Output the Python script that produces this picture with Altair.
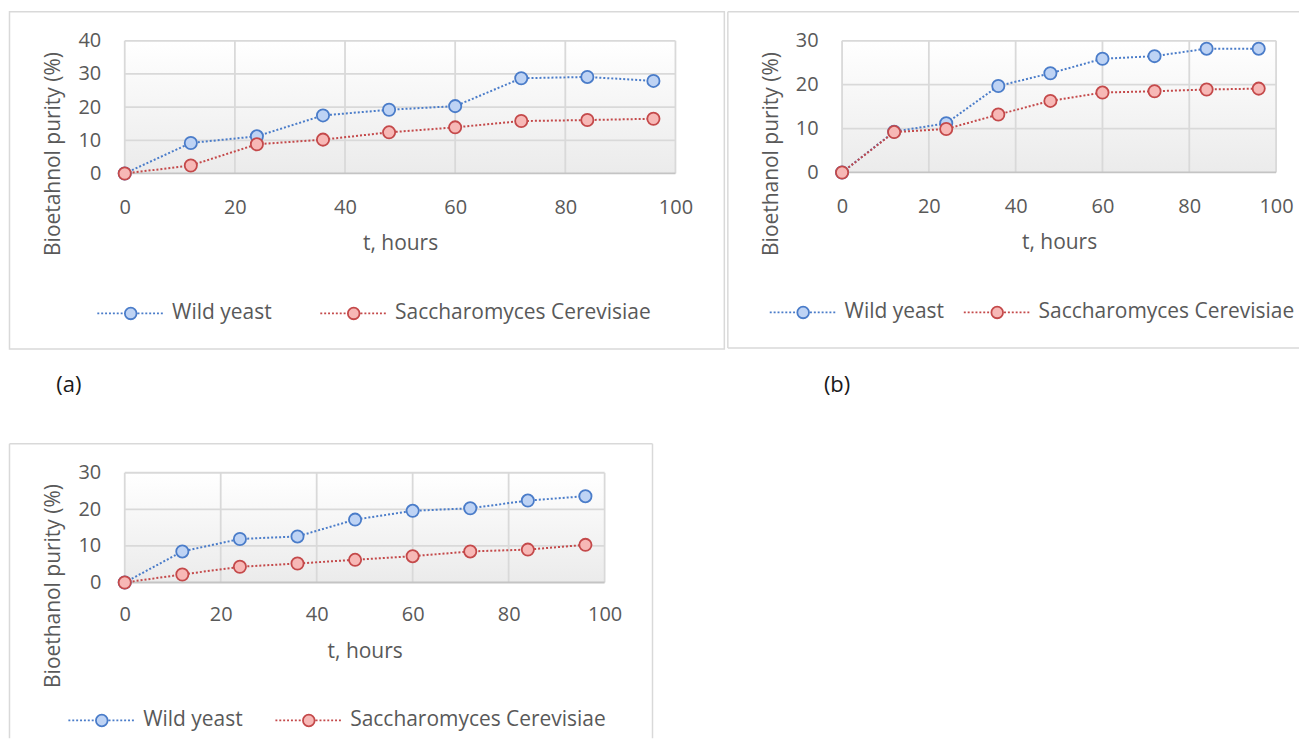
import altair as alt
import pandas as pd

# ---------------- data ----------------
hours = [0, 12, 24, 36, 48, 60, 72, 84, 96]
series_names = ["Wild yeast", "Saccharomyces Cerevisiae"]

a_wild = [0, 9.2, 11.2, 17.5, 19.2, 20.3, 28.7, 29.1, 27.9]
a_sacch = [0, 2.4, 8.8, 10.2, 12.4, 13.9, 15.8, 16.1, 16.5]
b_wild = [0, 9.3, 11.2, 19.7, 22.6, 25.9, 26.5, 28.2, 28.2]
b_sacch = [0, 9.2, 9.9, 13.2, 16.3, 18.2, 18.5, 18.9, 19.1]
c_wild = [0, 8.5, 11.9, 12.6, 17.2, 19.6, 20.3, 22.4, 23.6]
c_sacch = [0, 2.2, 4.3, 5.2, 6.2, 7.2, 8.5, 9.0, 10.3]

x_ticks = [0, 20, 40, 60, 80, 100]
a_y_ticks = [0, 10, 20, 30, 40]
bc_y_ticks = [0, 10, 20, 30]

y_titles = ["Bioetahnol purity (%)", "Bioethanol purity (%)", "Bioethanol purity (%)"]
x_title = "t, hours"
panel_labels = ["(a)", "(b)"]

# ---------------- style ----------------
FONT = "Open Sans"
TXT = "#595959"
GRID = "#d9d9d9"
FRAME = "#d9d9d9"
line_colors = ["#4a7cc9", "#c4494a"]
fill_colors = ["#bed3f4", "#f7b8b6"]

stroke_scale = alt.Scale(domain=series_names, range=line_colors)
fill_scale = alt.Scale(domain=series_names, range=fill_colors)

bg_gradient = alt.LinearGradient(
    gradient="linear",
    stops=[alt.GradientStop(color="#ffffff", offset=0),
           alt.GradientStop(color="#ebebeb", offset=1)],
    x1=0, x2=0, y1=0, y2=1)


def dotted(x0, x1, on=0.3, period=0.6):
    segs = []
    x = x0
    while x + on <= x1 + 1e-9:
        segs.append(f"M{x:.2f},0L{x + on:.2f},0")
        x += period
    return "".join(segs)


R = 0.9
SYMBOL = (dotted(-5.15, -R - 0.1) + dotted(R + 0.15, 5.15)
          + f"M{R},0A{R},{R} 0 1,1 {-R},0A{R},{R} 0 1,1 {R},0Z")


def make_panel(wild, sacch, y_ticks, y_title, w, h, legend_x, legend_y,
               col_pad, xlab_pad, xtitle_y, ytitle_y, deco):
    n = len(hours)
    df = pd.DataFrame({
        "t": hours + hours,
        "v": wild + sacch,
        "s": [series_names[0]] * n + [series_names[1]] * n,
    })
    ymax = y_ticks[-1]
    xs = alt.Scale(domain=[0, 100], nice=False, zero=False)
    ys = alt.Scale(domain=[0, ymax], nice=False, zero=False)
    xa = alt.Axis(values=x_ticks, labelPadding=xlab_pad, title=x_title,
                  titleY=xtitle_y, titleBaseline="middle", labelFlush=False)
    ya = alt.Axis(values=y_ticks, labelPadding=24, title=y_title,
                  titleX=-71, titleY=ytitle_y, titleAngle=270,
                  titleAlign="center", titleBaseline="middle")
    leg = alt.Legend(orient="none", legendX=legend_x, legendY=legend_y,
                     direction="horizontal", columns=2, title=None,
                     symbolType=SYMBOL, symbolSize=169, symbolStrokeWidth=1.8,
                     labelFont=FONT, labelFontSize=21, labelColor=TXT,
                     labelOffset=31, columnPadding=col_pad, padding=0,
                     labelLimit=500)

    bg_df = pd.DataFrame({"x0": [0], "x1": [100], "y0": [0], "y1": [ymax]})
    bg = alt.Chart(bg_df).mark_rect(fill=bg_gradient).encode(
        x=alt.X("x0:Q", scale=xs, axis=xa), x2="x1:Q",
        y=alt.Y("y0:Q", scale=ys, axis=ya), y2="y1:Q")
    vgrid = alt.Chart(pd.DataFrame({"g": x_ticks})).mark_rule(
        color=GRID, strokeWidth=1.8).encode(
        x=alt.X("g:Q", scale=xs, axis=xa))
    hgrid = alt.Chart(pd.DataFrame({"g": y_ticks})).mark_rule(
        strokeWidth=1.8).encode(
        y=alt.Y("g:Q", scale=ys, axis=ya),
        color=alt.condition(alt.datum.g == 0, alt.value("#c4c4c4"), alt.value(GRID)))
    lines = [
        alt.Chart(df).transform_filter(alt.datum.s == name).mark_line(
            strokeDash=[2, 2], strokeWidth=2, color=col).encode(
            x=alt.X("t:Q", scale=xs, axis=xa),
            y=alt.Y("v:Q", scale=ys, axis=ya))
        for name, col in zip(series_names, line_colors)
    ]
    pts = alt.Chart(df).mark_circle(size=150, strokeWidth=1.8, opacity=1).encode(
        x=alt.X("t:Q", scale=xs, axis=xa),
        y=alt.Y("v:Q", scale=ys, axis=ya),
        stroke=alt.Stroke("s:N", scale=stroke_scale, legend=leg),
        fill=alt.Fill("s:N", scale=fill_scale, legend=leg))
    return alt.layer(bg, vgrid, hgrid, *lines, pts, *deco).properties(width=w, height=h)


def hline(x1, x2, y):
    return alt.Chart().mark_rule(color=FRAME, strokeWidth=1.5).encode(
        x=alt.value(x1), x2=alt.value(x2), y=alt.value(y))


def vline(x, y1, y2):
    return alt.Chart().mark_rule(color=FRAME, strokeWidth=1.5).encode(
        x=alt.value(x), y=alt.value(y1), y2=alt.value(y2))


def caption(txt, x, y):
    return alt.Chart().mark_text(font=FONT, fontSize=22, color="#1a1a1a",
                                 align="center", baseline="middle").encode(
        x=alt.value(x), y=alt.value(y), text=alt.value(txt))


# panel (a)
deco_a = [
    alt.Chart().mark_rect(fill="transparent", stroke=FRAME, strokeWidth=1.5).encode(
        x=alt.value(-115.5), x2=alt.value(601), y=alt.value(-29), y2=alt.value(309)),
    alt.Chart().mark_rect(fill="transparent").encode(
        x=alt.value(0), x2=alt.value(1), y=alt.value(-29), y2=alt.value(401)),
    caption(panel_labels[0], -56, 345),
]
pa = make_panel(a_wild, a_sacch, a_y_ticks, y_titles[0], 552, 133,
                -4.5, 262.5, 44.5, 24, 70, 113, deco_a)

# panel (b)
deco_b = [
    hline(-114.5, 458, -29), hline(-114.5, 458, 308), vline(-114.5, -29, 308),
    caption(panel_labels[1], -5, 345),
]
pb = make_panel(b_wild, b_sacch, bc_y_ticks, y_titles[1], 435, 132,
                -49.5, 261.5, 15.5, 24, 70, 113, deco_b)

# panel (c)
deco_c = [
    hline(-115.5, 529, -29), vline(-115.5, -29, 266), vline(529, -29, 266),
]
pc = make_panel(c_wild, c_sacch, bc_y_ticks, y_titles[2], 481, 110,
                -33.5, 237.5, 28.5, 22, 69, 113, deco_c)

top = alt.hconcat(pa, pb, spacing=0).resolve_scale(
    stroke="independent", fill="independent").resolve_legend(
    stroke="independent", fill="independent")
chart = alt.vconcat(top, pc, spacing=0).resolve_scale(
    stroke="independent", fill="independent").resolve_legend(
    stroke="independent", fill="independent").properties(
    padding={"top": 1, "left": 0, "right": 0, "bottom": 0},
    background="white",
).configure_view(stroke="transparent").configure_axis(
    labelFont=FONT, labelFontSize=20, labelColor=TXT,
    titleFont=FONT, titleFontSize=21, titleColor=TXT, titleFontWeight="normal",
    ticks=False, tickSize=0, grid=False, domain=False,
)

chart.save("out.html", embed_options={"renderer": "svg", "actions": False})
